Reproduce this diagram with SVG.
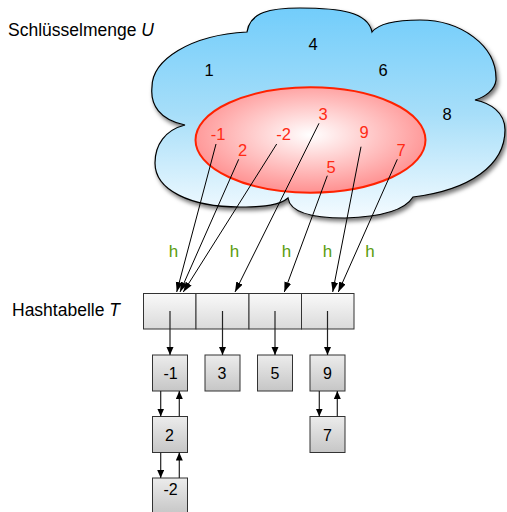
<svg xmlns="http://www.w3.org/2000/svg" width="507" height="512" viewBox="0 0 507 512">
<defs>
<linearGradient id="gCloud" x1="0" y1="0" x2="0" y2="1">
<stop offset="0" stop-color="#72cdfb"/>
<stop offset="0.5" stop-color="#a6def9"/>
<stop offset="1" stop-color="#f4fbff"/>
</linearGradient>
<radialGradient id="gEll" cx="0.5" cy="0.45" r="0.55">
<stop offset="0" stop-color="#ffffff"/>
<stop offset="1" stop-color="#ff9090"/>
</radialGradient>
<linearGradient id="gCell" x1="0" y1="0" x2="0" y2="1">
<stop offset="0" stop-color="#f9f9f9"/>
<stop offset="1" stop-color="#dadada"/>
</linearGradient>
<linearGradient id="gBox" x1="0" y1="0" x2="0" y2="1">
<stop offset="0" stop-color="#ececec"/>
<stop offset="1" stop-color="#c6c6c6"/>
</linearGradient>
<filter id="shadow" x="-10%" y="-10%" width="125%" height="130%">
<feDropShadow dx="2" dy="3" stdDeviation="2" flood-color="#000" flood-opacity="0.55"/>
</filter>
<marker id="ah" markerUnits="userSpaceOnUse" markerWidth="11" markerHeight="8" refX="10" refY="3.5" orient="auto">
<path d="M0,0 L10,3.5 L0,7 z" fill="#000"/>
</marker>
<marker id="ah2" markerUnits="userSpaceOnUse" markerWidth="9" markerHeight="8" refX="8" refY="3.5" orient="auto">
<path d="M0,0 L8,3.5 L0,7 z" fill="#000"/>
</marker>
</defs>
<style>
.t{font-family:"Liberation Sans",Arial,sans-serif;font-size:17.5px;fill:#000}
.n{font-family:"Liberation Sans",Arial,sans-serif;font-size:16.5px;fill:#000;text-anchor:middle}
.r{font-family:"Liberation Sans",Arial,sans-serif;font-size:16.5px;fill:#ff2a14;text-anchor:middle}
.h{font-family:"Liberation Sans",Arial,sans-serif;font-size:17px;fill:#5a9c0c;text-anchor:middle}
.b{font-family:"Liberation Sans",Arial,sans-serif;font-size:16px;fill:#000;text-anchor:middle}
.cell{fill:url(#gCell);stroke:#333;stroke-width:1}
.box{fill:url(#gBox);stroke:#333;stroke-width:1}
.c{stroke:#000;stroke-width:1;fill:none}
.k{stroke:#222;stroke-width:1.2;fill:none}
</style>

<text class="t" x="8" y="36">Schlüsselmenge <tspan font-style="italic">U</tspan></text>
<text class="t" x="12" y="316">Hashtabelle <tspan font-style="italic">T</tspan></text>

<g id="cloudU">
<path filter="url(#shadow)" fill="url(#gCloud)" stroke="#000" stroke-width="1.2" d="M185,125 C160,120 150,105 152,87 C152,60 190,35 247,32 C250,12 270,8 300,8 C340,8 368,12 372,32 C380,22 400,20 420,20 C460,20 497,45 496,80 C495,90 485,97 475,100 C490,103 505,112 505,130 C505,165 470,190 413,197 C405,210 380,217 345,218 C310,218 290,212 288,198 C280,205 265,207 240,207 C190,207 155,190 155,163 C155,145 165,130 185,125 Z"/>
<text class="n" x="313" y="49.5">4</text>
<text class="n" x="209" y="76">1</text>
<text class="n" x="383" y="76">6</text>
<text class="n" x="447" y="120">8</text>
</g>

<g id="setK">
<ellipse cx="310.5" cy="140" rx="115" ry="52.7" fill="url(#gEll)" stroke="#ff2200" stroke-width="2"/>
<text class="r" x="323" y="120">3</text>
<text class="r" x="218" y="140">-1</text>
<text class="r" x="283.5" y="140">-2</text>
<text class="r" x="364" y="137.5">9</text>
<text class="r" x="242.5" y="155.5">2</text>
<text class="r" x="401" y="155.5">7</text>
<text class="r" x="331" y="172.5">5</text>
</g>

<g id="hashLabels">
<text class="h" x="173.5" y="257">h</text>
<text class="h" x="234.5" y="257">h</text>
<text class="h" x="286.5" y="257">h</text>
<text class="h" x="327.5" y="257">h</text>
<text class="h" x="370" y="257">h</text>
</g>

<g id="tableT">
<rect class="cell" x="143.5" y="293.5" width="52.5" height="35.5"/>
<rect class="cell" x="196" y="293.5" width="53" height="35.5"/>
<rect class="cell" x="249" y="293.5" width="52.5" height="35.5"/>
<rect class="cell" x="301.5" y="293.5" width="52.5" height="35.5"/>
</g>

<g id="list1">
<rect class="box" x="152.5" y="355" width="35" height="36"/>
<text class="b" x="170.5" y="378.5">-1</text>
<rect class="box" x="152.5" y="416.5" width="35" height="36"/>
<text class="b" x="169.5" y="441">2</text>
<rect class="box" x="152.5" y="478" width="35" height="36"/>
<text class="b" x="170.5" y="494.5">-2</text>
</g>
<g id="list2">
<rect class="box" x="205" y="355" width="35" height="36"/>
<text class="b" x="222" y="378.5">3</text>
</g>
<g id="list3">
<rect class="box" x="257.5" y="355" width="35" height="36"/>
<text class="b" x="275" y="378.5">5</text>
</g>
<g id="list4">
<rect class="box" x="310" y="355" width="35" height="36"/>
<text class="b" x="327.5" y="378.5">9</text>
<rect class="box" x="310" y="416.5" width="35" height="36"/>
<text class="b" x="327.5" y="441">7</text>
</g>

<g id="connectors">
<line class="c" x1="216" y1="144" x2="176.7" y2="292" marker-end="url(#ah)"/>
<line class="c" x1="238.7" y1="159.3" x2="180" y2="292" marker-end="url(#ah)"/>
<line class="c" x1="276.7" y1="144" x2="183.3" y2="292" marker-end="url(#ah)"/>
<line class="c" x1="319" y1="123.3" x2="235" y2="292" marker-end="url(#ah)"/>
<line class="c" x1="327.3" y1="175.7" x2="284.3" y2="292" marker-end="url(#ah)"/>
<line class="c" x1="361" y1="146.7" x2="332.7" y2="292" marker-end="url(#ah)"/>
<line class="c" x1="397.3" y1="159.3" x2="338.3" y2="292" marker-end="url(#ah)"/>
<line class="k" x1="170" y1="311" x2="170" y2="355" marker-end="url(#ah2)"/>
<line class="k" x1="222.5" y1="311" x2="222.5" y2="355" marker-end="url(#ah2)"/>
<line class="k" x1="275" y1="311" x2="275" y2="355" marker-end="url(#ah2)"/>
<line class="k" x1="327.5" y1="311" x2="327.5" y2="355" marker-end="url(#ah2)"/>
<line class="k" x1="160.7" y1="391" x2="160.7" y2="416.5" marker-end="url(#ah2)"/>
<line class="k" x1="179.3" y1="416.5" x2="179.3" y2="391" marker-end="url(#ah2)"/>
<line class="k" x1="160.7" y1="452.5" x2="160.7" y2="478" marker-end="url(#ah2)"/>
<line class="k" x1="179.3" y1="478" x2="179.3" y2="452.5" marker-end="url(#ah2)"/>
<line class="k" x1="319.3" y1="391" x2="319.3" y2="416.5" marker-end="url(#ah2)"/>
<line class="k" x1="337.3" y1="416.5" x2="337.3" y2="391" marker-end="url(#ah2)"/>
</g>
</svg>
